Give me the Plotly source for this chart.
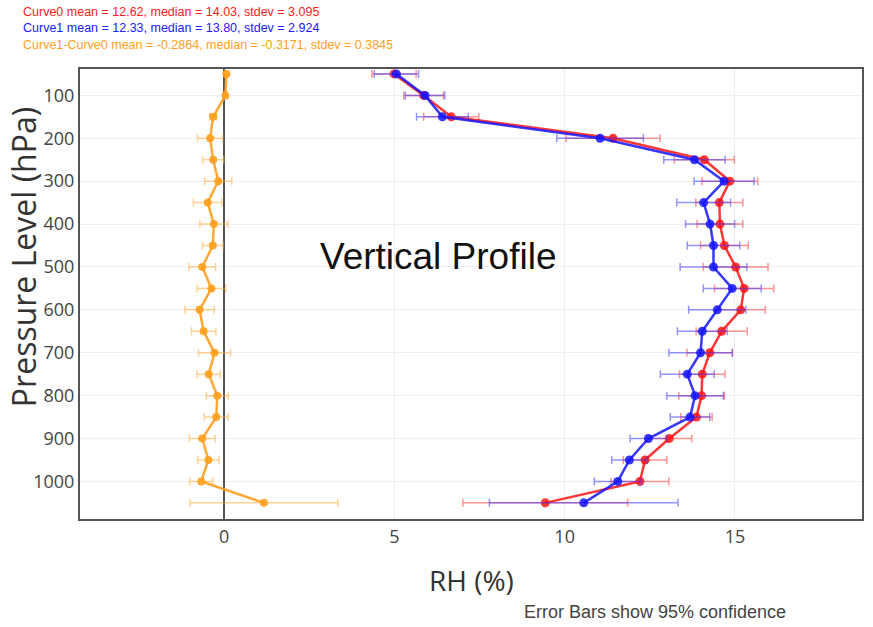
import plotly.graph_objects as go

levels = [50, 100, 150, 200, 250, 300, 350, 400, 450, 500, 550,
          600, 650, 700, 750, 800, 850, 900, 950, 1000, 1050]

curve0 = [4.99, 5.86, 6.67, 11.42, 14.10, 14.85, 14.54, 14.56, 14.69, 15.02, 15.27,
          15.17, 14.61, 14.26, 14.04, 14.02, 13.87, 13.07, 12.36, 12.21, 9.43]
curve0_err = [0.65, 0.58, 0.81, 1.38, 0.88, 0.82, 0.69, 0.67, 0.70, 0.95, 0.87,
              0.72, 0.75, 0.67, 0.67, 0.67, 0.46, 0.66, 0.64, 0.85, 2.42]

curve1 = [5.06, 5.90, 6.41, 11.04, 13.81, 14.68, 14.08, 14.27, 14.37, 14.37, 14.92,
          14.48, 14.04, 13.99, 13.60, 13.83, 13.68, 12.46, 11.90, 11.56, 10.56]
curve1_err = [0.65, 0.58, 0.76, 1.27, 0.90, 0.88, 0.79, 0.72, 0.77, 0.98, 0.85,
              0.84, 0.73, 0.93, 0.79, 0.83, 0.58, 0.54, 0.52, 0.69, 2.77]

diff = [0.07, 0.04, -0.32, -0.41, -0.32, -0.17, -0.48, -0.30, -0.33, -0.64, -0.37,
        -0.72, -0.60, -0.28, -0.45, -0.20, -0.23, -0.64, -0.46, -0.67, 1.17]
diff_err = [0.05, 0.05, 0.10, 0.37, 0.31, 0.40, 0.42, 0.41, 0.30, 0.39, 0.42,
            0.43, 0.36, 0.47, 0.34, 0.32, 0.35, 0.38, 0.31, 0.34, 2.17]

x_ticks = [0, 5, 10, 15]
y_ticks = [100, 200, 300, 400, 500, 600, 700, 800, 900, 1000]

stats_lines = [
    ("Curve0 mean = 12.62, median = 14.03, stdev = 3.095", "#ff2020"),
    ("Curve1 mean = 12.33, median = 13.80, stdev = 2.924", "#2020ff"),
    ("Curve1-Curve0 mean = -0.2864, median = -0.3171, stdev = 0.3845", "#ffa020"),
]

fig = go.Figure()


def add_curve(x, err, color, errcolor, msize):
    fig.add_trace(go.Scatter(
        x=x, y=levels, mode="lines+markers",
        line=dict(color=color, width=2.5),
        marker=dict(color=color, size=msize),
        error_x=dict(type="data", array=err, symmetric=True,
                     color=errcolor, thickness=1.5, width=4),
        showlegend=False,
    ))


add_curve(curve0, curve0_err, "rgba(255,20,20,0.85)", "rgba(255,60,60,0.55)", 9)
add_curve(curve1, curve1_err, "rgba(20,20,255,0.85)", "rgba(60,60,255,0.55)", 9)
add_curve(diff, diff_err, "rgba(255,160,30,0.9)", "rgba(255,175,60,0.55)", 8)

L, R, T, B = 80, 9, 69, 108
W, H = 873, 627
pw, ph = W - L - R, H - T - B


def px(xp):
    return (xp - L) / pw


def py(yp):
    return (H - B - yp) / ph


annotations = []
for i, (txt, col) in enumerate(stats_lines):
    annotations.append(dict(
        text=txt, xref="paper", yref="paper", x=px(21), y=py(12 + 16.5 * i),
        xanchor="left", yanchor="middle", showarrow=False,
        font=dict(family="Arial, Liberation Sans", size=12.5, color=col),
    ))

annotations.append(dict(
    text="Vertical Profile", xref="paper", yref="paper", x=px(439), y=py(256),
    xanchor="center", yanchor="middle", showarrow=False,
    font=dict(family="Arial, Liberation Sans", size=37, color="#111"),
))
annotations.append(dict(
    text="RH (%)", xref="paper", yref="paper", x=px(473), y=py(580),
    xanchor="center", yanchor="middle", showarrow=False,
    font=dict(family="Open Sans", size=28, color="#333"),
))
annotations.append(dict(
    text="Pressure Level (hPa)", xref="paper", yref="paper", x=px(23), y=py(257),
    xanchor="center", yanchor="middle", showarrow=False, textangle=-90,
    font=dict(family="Open Sans", size=32, color="#333"),
))
annotations.append(dict(
    text="Error Bars show 95% confidence", xref="paper", yref="paper", x=px(523), y=py(612),
    xanchor="left", yanchor="middle", showarrow=False,
    font=dict(family="Arial, Liberation Sans", size=18, color="#444"),
))

fig.update_layout(
    width=W, height=H,
    margin=dict(l=L, r=R, t=T, b=B),
    paper_bgcolor="white", plot_bgcolor="white",
    annotations=annotations,
    xaxis=dict(
        range=[-4.23, 18.73], tickvals=x_ticks, ticktext=[str(v) for v in x_ticks],
        showgrid=True, gridcolor="#eeeeee", gridwidth=1,
        zeroline=True, zerolinecolor="#555", zerolinewidth=1.5,
        showline=True, mirror=True, linecolor="#555", linewidth=2,
        ticks="", tickfont=dict(family="Open Sans", size=18, color="#444"),
    ),
    yaxis=dict(
        range=[1087.6, 38.5], tickvals=y_ticks, ticktext=[str(v) for v in y_ticks],
        showgrid=True, gridcolor="#eeeeee", gridwidth=1, zeroline=False,
        showline=True, mirror=True, linecolor="#555", linewidth=2,
        ticks="", tickfont=dict(family="Open Sans", size=18, color="#444"),
    ),
)

fig.write_html("out.html", config={"displayModeBar": False},
               post_script="document.body.style.margin='0px';")
